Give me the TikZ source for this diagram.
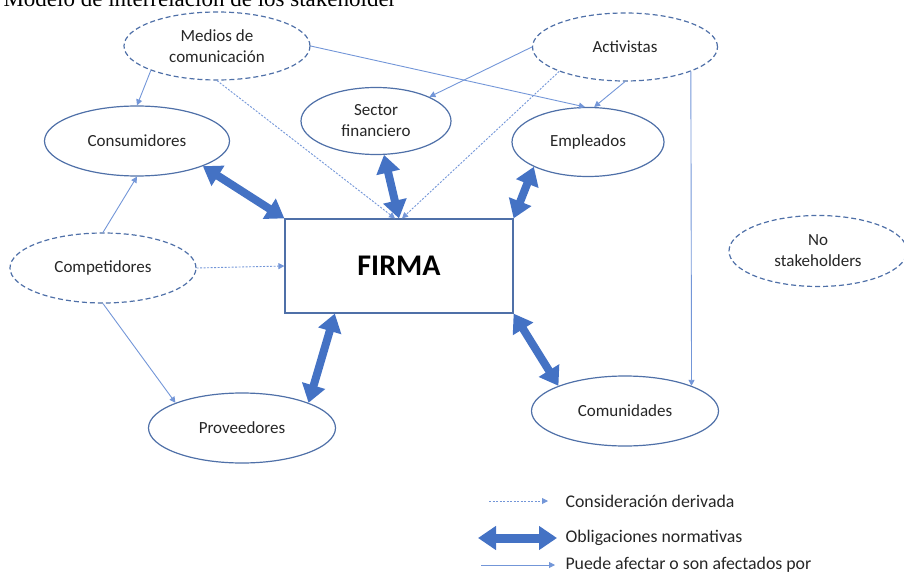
\documentclass[tikz,border=0pt]{standalone}
\usepackage{fontspec}
\setmainfont{Liberation Serif}
\newfontfamily\calib{Carlito}
\usetikzlibrary{shapes.geometric,arrows.meta,calc}
\definecolor{rim}{HTML}{4F70A8}
\definecolor{heavy}{HTML}{4472C4}
\definecolor{light}{HTML}{7396D8}
\definecolor{ink}{HTML}{262626}

\begin{document}
\begin{tikzpicture}[x=1pt,y=-1pt,
  every node/.append style={font=\calib\fontsize{17}{21}\selectfont,text=ink,align=center},
  stk/.style={ellipse,draw=rim,line width=1.2pt,inner sep=0pt,minimum height=69pt},
  nstk/.style={stk,dash pattern=on 5pt off 3pt},
  firm/.style={draw=rim,line width=1.2pt,minimum width=228pt,minimum height=94pt,
    font=\calib\bfseries\fontsize{30}{34}\selectfont,text=black},
  oblig/.style={draw=heavy,line width=8pt,
    {Triangle[length=18pt,width=23pt]}-{Triangle[length=18pt,width=23pt]}},
  afecta/.style={draw=light,line width=0.9pt,-{Triangle[length=6pt,width=6pt]}},
  deriv/.style={afecta,dash pattern=on 2pt off 1.5pt},
  lab/.style={anchor=west,font=\calib\fontsize{17.8}{20}\selectfont}]
\useasboundingbox (0,0) rectangle (904,572);
\clip (0,0) rectangle (904,572);
\node[anchor=base west,font=\fontsize{23}{26}\selectfont,text=black] (title) at (0,7)
  {Modelo de interrelación de los stakeholder};
% stakeholders
\node[nstk,minimum width=186pt,minimum height=68pt] (medios) at (217,46) {Medios de\\comunicación};
\node[nstk,minimum width=185pt,minimum height=68pt] (activ) at (625,47) {Activistas};
\node[stk,minimum width=150pt,minimum height=67pt] (sector) at (376,121) {Sector\\financiero};
\node[stk,minimum width=185pt,minimum height=70pt] (consum) at (137,141) {Consumidores};
\node[stk,minimum width=152pt] (emple) at (588,142) {Empleados};
\node[firm] (firma) at (399,266) {FIRMA};
\node[nstk,minimum width=186pt,minimum height=70pt] (compet) at (103,268) {Competidores};
\node[nstk,minimum width=178pt,minimum height=71pt] (nostk) at (818,251) {No\\stakeholders};
\node[stk,minimum width=187pt,minimum height=70pt] (prov) at (242,428) {Proveedores};
\node[stk,minimum width=187pt,minimum height=70pt] (comun) at (625,411) {Comunidades};
% obligaciones normativas
\draw[oblig] (consum.south east) -- (firma.north west);
\draw[oblig] (sector) -- (firma.north);
\draw[oblig] (emple.south west) -- (firma.north east);
\draw[oblig] ($(firma.south west)!.22!(firma.south east)$) -- (prov.north east);
\draw[oblig] (firma.south east) -- (comun.north west);
% puede afectar
\draw[afecta] (medios.south west) -- (consum.north);
\draw[afecta] (medios.east) -- (emple.95);
\draw[afecta] (activ.west) -- (sector.north east);
\draw[afecta] (activ.south) -- (emple.80);
\draw[afecta] (activ.south east) -- (comun.north east);
\draw[afecta] (compet.north) -- (consum.south);
\draw[afecta] (compet.south) -- (prov.north west);
% consideracion derivada
\draw[deriv] (medios.south) -- ($(firma.north)+(-4,0)$);
\draw[deriv] (activ.south west) -- ($(firma.north)+(3,0)$);
\draw[deriv] (compet.east) -- (firma.west);
% leyenda
\coordinate (d1) at (489,501); \coordinate (d2) at (548,501);
\coordinate (o1) at (478,538); \coordinate (o2) at (557,538);
\coordinate (a1) at (481,565); \coordinate (a2) at (555,565);
\draw[deriv] (d1) -- (d2);
\draw[oblig,line width=9pt] (o1) -- (o2);
\draw[afecta] (a1) -- (a2);
\node[lab] (lderiv) at (562,501) {Consideración derivada};
\node[lab] (loblig) at (562,538) {Obligaciones normativas};
\node[lab] (lafecta) at (562,565) {Puede afectar o son afectados por};
\end{tikzpicture}
\end{document}
